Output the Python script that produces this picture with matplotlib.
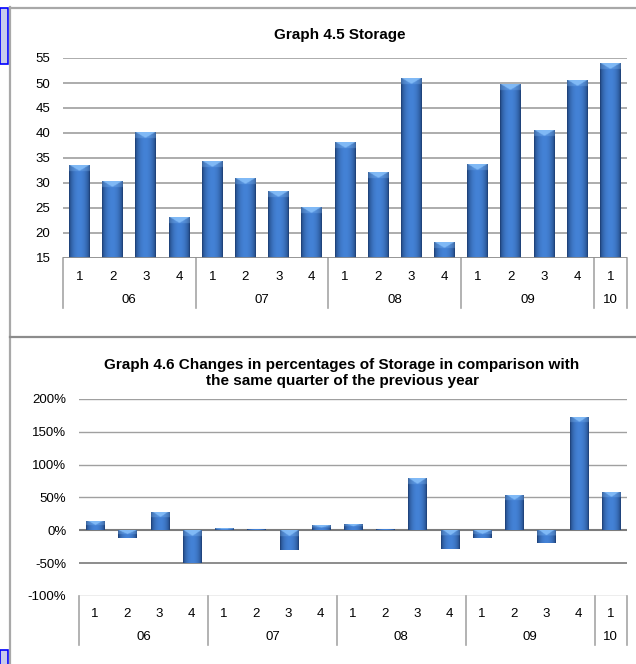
import matplotlib
matplotlib.use("Agg")
import matplotlib.pyplot as plt
import numpy as np
from matplotlib.patches import Rectangle
from matplotlib.lines import Line2D

plt.rcParams['font.family'] = ['Liberation Sans', 'DejaVu Sans']

years = ['06', '07', '08', '09', '10']
quarters_per_year = [4, 4, 4, 4, 1]
quarters = ['1', '2', '3', '4'] * 4 + ['1']

storage = [33.6, 30.4, 40.1, 23.1, 34.4, 30.9, 28.4, 25.1,
           38.1, 32.1, 50.9, 18.2, 33.8, 49.8, 40.6, 50.5, 53.9]
change_pct = [14, -12, 28, -50, 3, 2.5, -30, 7.5,
              10, 2.5, 79, -29, -11, 54.5, -20, 173, 58.5]

W, H = 636, 664
fig = plt.figure(figsize=(W / 100, H / 100), dpi=100)


def box(x0, y0, x1, y1):
    # pixel box (top-left origin) -> figure fraction rect
    return [x0 / W, 1 - y1 / H, (x1 - x0) / W, (y1 - y0) / H]


def shade_bars(ax, bars, cap_px=6):
    # cylinder-like shading with a light bevel at the top of each bar
    t = np.linspace(0, 1, 40)
    prof = np.sin(np.pi * t) ** 0.55
    dark = np.array([26, 58, 110]) / 255
    mid = np.array([68, 130, 214]) / 255
    cap = np.array([135, 192, 250]) / 255
    for b in bars:
        x0, w = b.get_x(), b.get_width()
        y0, h = b.get_y(), b.get_height()
        lo, hi = min(y0, y0 + h), max(y0, y0 + h)
        p0 = ax.transData.transform((x0, lo))
        p1 = ax.transData.transform((x0, hi))
        hpx = max(p1[1] - p0[1], 1.0)
        rows = max(int(round(hpx * 2)), 2)
        img = dark[None, None, :] + (mid - dark)[None, None, :] * prof[None, :, None]
        img = np.repeat(img, rows, axis=0)
        ncap = int(min(cap_px * 2, rows / 2))
        for r in range(ncap):
            d = r / max(ncap, 1)
            inside = np.abs(t - 0.5) < 0.5 * (1 - d) - 0.04
            wgt = np.where(inside, 0.9, 0.3)[:, None]
            img[r] = img[r] * (1 - wgt) + cap[None, :] * wgt
        im = ax.imshow(img, extent=[x0, x0 + w, lo, hi], aspect='auto',
                       origin='upper', zorder=3, interpolation='bilinear')
        im.set_clip_path(b)
        b.set_facecolor('none')
        b.set_edgecolor('none')


def category_axis(ax, y_quarter, y_year, sep_len):
    n = len(quarters)
    for i, q in enumerate(quarters):
        ax.annotate(q, xy=(i, 0), xycoords=('data', 'axes fraction'),
                    xytext=(0, y_quarter), textcoords='offset pixels',
                    ha='center', va='center', fontsize=9.5, annotation_clip=False)
    start = 0
    bounds = [-0.5]
    for yr, k in zip(years, quarters_per_year):
        mid = start + (k - 1) / 2
        ax.annotate(yr, xy=(mid, 0), xycoords=('data', 'axes fraction'),
                    xytext=(0, y_year), textcoords='offset pixels',
                    ha='center', va='center', fontsize=9.5, annotation_clip=False)
        start += k
        bounds.append(start - 0.5)
    trans = ax.get_xaxis_transform()
    frac = sep_len / (ax.get_position().height * H)
    for bx in bounds:
        ax.add_line(Line2D([bx, bx], [0, -frac], transform=trans, color='#a6a6a6',
                           lw=1.2, clip_on=False))
    ax.set_xlim(-0.5, n - 0.5)
    ax.set_xticks([])


x = np.arange(len(storage))

# Graph 4.5
ax1 = fig.add_axes(box(63, 58, 627, 258))
ax1.set_ylim(15, 55)
ax1.set_xlim(-0.5, len(storage) - 0.5)
bars1 = ax1.bar(x, np.array(storage) - 15, bottom=15, width=0.63, zorder=3)
ax1.set_yticks(np.arange(15, 56, 5))
for yv in np.arange(20, 56, 5):
    ax1.axhline(yv, color='#969696', lw=1.1, zorder=1)
ax1.axhline(15, color='#8c8c8c', lw=1.3, zorder=4)
for s in ax1.spines.values():
    s.set_visible(False)
ax1.tick_params(axis='y', length=0, pad=9, labelsize=9.5)
category_axis(ax1, -19, -42, 50)
ax1.set_title('Graph 4.5 Storage', fontsize=11, fontweight='bold', pad=14)
ax1.title.set_position((0.49, 1))

# Graph 4.6
ax2 = fig.add_axes(box(79, 399, 627, 596))
ax2.set_ylim(-100, 200)
ax2.set_xlim(-0.5, len(change_pct) - 0.5)
bars2 = ax2.bar(x, change_pct, width=0.56, zorder=3)
ax2.set_yticks(np.arange(-100, 201, 50))
ax2.set_yticklabels([f'{v}%' for v in range(-100, 201, 50)])
for yv in [50, 100, 150, 200]:
    ax2.axhline(yv, color='#a0a0a0', lw=1.0, zorder=1)
ax2.axhline(-50, color='#8c8c8c', lw=1.4, zorder=1)
ax2.axhline(-100, color='#a6a6a6', lw=1.0, zorder=1)
ax2.axhline(0, color='#7c7c7c', lw=1.5, zorder=2)
for s in ax2.spines.values():
    s.set_visible(False)
ax2.tick_params(axis='y', length=0, pad=9, labelsize=9.5)
category_axis(ax2, -18, -41, 49)
ax2.set_title('Graph 4.6 Changes in percentages of Storage in comparison with\n'
              'the same quarter of the previous year',
              fontsize=11, fontweight='bold', pad=10, linespacing=1.15)
ax2.title.set_position((0.48, 1))

fig.canvas.draw()
shade_bars(ax1, bars1)
shade_bars(ax2, bars2)
ax1.set_ylim(15, 55)
ax1.set_xlim(-0.5, len(storage) - 0.5)
ax2.set_ylim(-100, 200)
ax2.set_xlim(-0.5, len(change_pct) - 0.5)

# page frame lines and side markers
frame = fig.add_axes([0, 0, 1, 1], zorder=-1)
frame.set_xlim(0, W)
frame.set_ylim(H, 0)
frame.axis('off')
frame.plot([9.5, 9.5], [7, H], color='#a8a8a8', lw=1.6)
frame.plot([9.5, W], [7.5, 7.5], color='#a8a8a8', lw=1.6)
frame.plot([9.5, W], [336.5, 336.5], color='#8c8c8c', lw=1.6)
frame.add_patch(Rectangle((0, 8), 7.5, 56, facecolor='#c8cbec', edgecolor='#0000ff', lw=1.2))
frame.add_patch(Rectangle((0, 650), 7.5, 20, facecolor='#c8cbec', edgecolor='#0000ff', lw=1.2))

fig.savefig('out.png', dpi=100)
